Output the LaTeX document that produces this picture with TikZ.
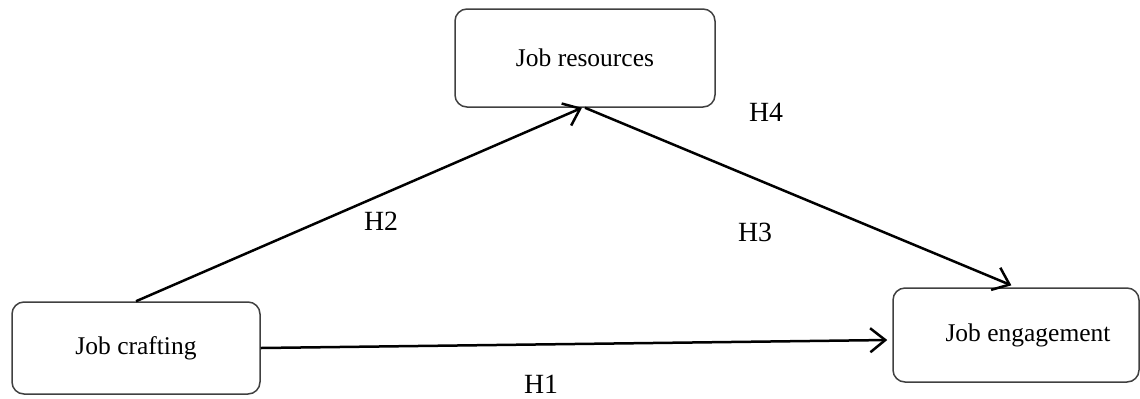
\documentclass[tikz,border=0pt]{standalone}
\usepackage{fontspec}
\setmainfont{Liberation Serif}
\usetikzlibrary{arrows.meta,positioning}

\begin{document}
\begin{tikzpicture}[%
    x=0.5pt, y=-0.5pt,
    box/.style={
        draw=black!75,
        line width=0.75pt,
        rounded corners=6pt,
        font=\fontsize{12.75}{15}\selectfont,
        inner sep=0pt
        },
    hyp/.style={
        font=\fontsize{13.9}{16}\selectfont,
        inner sep=0pt
        },
    link/.style={
        line width=1.25pt,
        -{Straight Barb[length=7.5pt,width=12pt,line width=1.25pt]}
        }
]
\useasboundingbox (0,0) rectangle (1140,398);

\node[box, minimum width=124pt, minimum height=46pt] (crafting) at (136,348) {Job crafting};
\node[box, minimum width=130pt, minimum height=49pt] (resources) at (585,58) {Job resources};
\node[box, minimum width=123pt, minimum height=47pt] (engagement) at (1016,335) {\hspace*{12pt}Job engagement};

\node[hyp] (h1) at (541,384) {H1};
\node[hyp] (h2) at (381,221) {H2};
\node[hyp] (h3) at (755,232) {H3};
\node[hyp] (h4) at (766,112) {H4};

\draw[link] (crafting.north) -- ([xshift=-1.5pt]resources.south);
\draw[link, shorten >=2.5pt] (resources.south) -- (engagement.north);
\draw[link] (crafting.east) -- ([xshift=-2.5pt,yshift=-2.5pt]engagement.west);

\end{tikzpicture}
\end{document}
